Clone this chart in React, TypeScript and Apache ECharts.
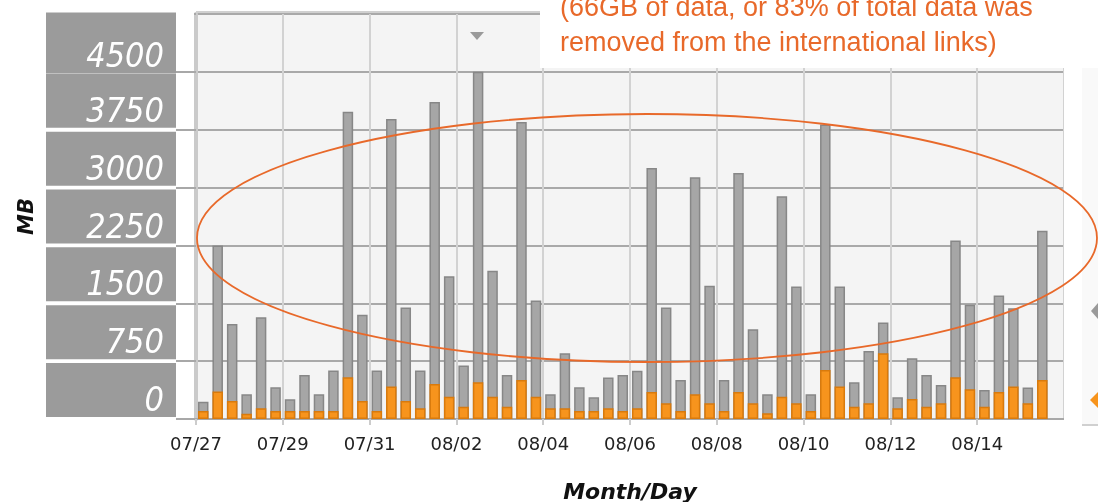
import React, { useEffect, useRef } from "react";
import * as echarts from "echarts";

// 8-hour bins starting 07/27 00:00 (3 bins per day)
const binsPerDay = 3;
const axisBins = 60;
const dayTickLabels = ["07/27", "07/29", "07/31", "08/02", "08/04", "08/06", "08/08", "08/10", "08/12", "08/14"];
const yTickValues = [0, 750, 1500, 2250, 3000, 3750, 4500];

// Total traffic (MB) per bin
const totalMB = [
  225, 2250, 1230, 320, 1320, 411, 255, 571, 320, 628,
  3984, 1351, 628, 3888, 1446, 628, 4109, 1849, 693, 4500,
  1922, 571, 3851, 1536, 320, 852, 411, 281, 537, 571,
  627, 3254, 1445, 506, 3133, 1726, 506, 3189, 1164, 320,
  2886, 1718, 320, 3816, 1718, 476, 883, 1250, 281, 788,
  571, 441, 2315, 1480, 376, 1601, 1437, 407, 2440,
];
// Traffic remaining on international links (MB) per bin
const intlMB = [
  104, 355, 234, 69, 139, 104, 104, 104, 104, 104,
  541, 234, 104, 420, 234, 139, 455, 290, 160, 476,
  290, 160, 506, 290, 138, 138, 104, 104, 138, 104,
  138, 350, 203, 104, 320, 203, 104, 350, 203, 74,
  290, 203, 104, 636, 420, 160, 203, 852, 138, 260,
  160, 203, 541, 385, 160, 350, 420, 203, 506,
];

const noteLine1 = "(66GB of data, or 83% of total data was";
const noteLine2 = "removed from the international links)";

export default function App() {
  const ref = useRef<HTMLDivElement>(null);
  useEffect(() => {
    if (!ref.current) return;
    const chart = echarts.init(ref.current, null, { renderer: "svg" });
    const step = 750;
    const half = step / 2;
    const labelBase = {
      backgroundColor: "#9b9b9b",
      color: "#ffffff",
      fontStyle: "italic",
      fontFamily: "DejaVu Sans Condensed, DejaVu Sans",
      fontSize: 34,
      width: 118,
      height: 36,
      lineHeight: 36,
      align: "right",
    };
    chart.setOption({
      animation: false,
      grid: {
        left: 196,
        right: 34,
        top: 14,
        bottom: 83,
        outerBoundsMode: "none",
        containLabel: false,
        show: true,
        backgroundColor: "#f4f4f4",
        borderWidth: 0,
      },
      xAxis: {
        type: "value",
        min: 0,
        max: axisBins,
        interval: 2 * binsPerDay,
        name: "Month/Day",
        nameLocation: "middle",
        nameGap: 61,
        nameTextStyle: {
          fontFamily: "DejaVu Sans",
          fontWeight: "bold",
          fontStyle: "italic",
          fontSize: 22,
          color: "#111",
        },
        axisLine: { show: true, lineStyle: { color: "#a8a8a8", width: 2 } },
        axisTick: { show: true, length: 6, lineStyle: { color: "#cccccc", width: 2 } },
        axisLabel: {
          showMaxLabel: false,
          margin: 15,
          fontFamily: "DejaVu Sans",
          fontSize: 18,
          color: "#222",
          formatter: (v: number) => dayTickLabels[Math.round(v / (2 * binsPerDay))] ?? "",
        },
        splitLine: { show: true, lineStyle: { color: "#d2d2d2", width: 2 } },
      },
      yAxis: [
        {
          type: "value",
          min: 0,
          max: 5250,
          interval: step,
          name: "MB",
          nameLocation: "middle",
          nameGap: 160,
          nameTextStyle: {
            fontFamily: "DejaVu Sans",
            fontWeight: "bold",
            fontStyle: "italic",
            fontSize: 21,
            color: "#111",
          },
          axisLine: { show: true, lineStyle: { color: "#cacaca", width: 4 } },
          axisTick: { show: true, length: 20, lineStyle: { color: "#a8a8a8", width: 2 } },
          axisLabel: { show: false },
          splitLine: { show: true, lineStyle: { color: "#a9a9a9", width: 2 } },
        },
        {
          type: "value",
          position: "left",
          min: 0,
          max: 5250,
          interval: half,
          axisLine: { show: false },
          axisTick: { show: false },
          splitLine: { show: false },
          axisLabel: {
            margin: 20,
            formatter: (v: number) => {
              const k = Math.round(v / half);
              if (k % 2 === 0) return "";
              const val = v - half;
              if (!yTickValues.includes(val)) return "";
              return val === 4500 ? `{t|${val}}` : `{b|${val}}`;
            },
            rich: {
              b: { ...labelBase, padding: [18, 12, 0, 0] },
              t: { ...labelBase, padding: [25, 12, 0, 0] },
            },
          },
        },
      ],
      series: [
        {
          name: "Total",
          type: "bar",
          barWidth: 10.5,
          barGap: "-100%",
          data: totalMB.map((v, i) => [i + 0.5, v]),
          itemStyle: { color: "#a6a6a6", borderColor: "#878787", borderWidth: 1.5 },
        },
        {
          name: "International",
          type: "bar",
          barWidth: 10.5,
          barGap: "-100%",
          data: intlMB.map((v, i) => [i + 0.5, v]),
          itemStyle: { color: "#f7941d", borderColor: "#d97a0c", borderWidth: 1.5 },
        },
      ],
      graphic: [
        { type: "rect", z: 100, shape: { x: 540, y: 0, width: 558, height: 68 }, style: { fill: "#ffffff" } },
        { type: "rect", z: 100, shape: { x: 1064, y: 12, width: 34, height: 420 }, style: { fill: "#ffffff" } },
        { type: "rect", z: 100, shape: { x: 1082, y: 68, width: 16, height: 357 }, style: { fill: "#f9f9f9" } },
        { type: "rect", z: 100, shape: { x: 176, y: 9, width: 18, height: 8 }, style: { fill: "#ffffff" } },
        { type: "line", z: 100, shape: { x1: 1082, y1: 425, x2: 1098, y2: 425 }, style: { stroke: "#d0d0d0", lineWidth: 2 } },
        { type: "line", z: 100, shape: { x1: 196, y1: 12, x2: 540, y2: 12 }, style: { stroke: "#d0d0d0", lineWidth: 2 } },
        { type: "polygon", z: 101, shape: { points: [[1098, 303], [1091, 311], [1098, 319]] }, style: { fill: "#9a9a9a" } },
        { type: "polygon", z: 101, shape: { points: [[1098, 392], [1090, 400], [1098, 408]] }, style: { fill: "#f7941d" } },
        { type: "polygon", z: 101, shape: { points: [[470, 32], [484, 32], [477, 40]] }, style: { fill: "#9a9a9a" } },
        {
          type: "text", z: 101, x: 560, y: 7,
          style: { text: noteLine1, fill: "#e8692a", font: "27px 'Liberation Sans', Arial, sans-serif", verticalAlign: "middle" },
        },
        {
          type: "text", z: 101, x: 560, y: 42,
          style: { text: noteLine2, fill: "#e8692a", font: "27px 'Liberation Sans', Arial, sans-serif", verticalAlign: "middle" },
        },
        {
          type: "ellipse", z: 102,
          shape: { cx: 647, cy: 238, rx: 450, ry: 124 },
          style: { fill: "none", stroke: "#e8692a", lineWidth: 1.8 },
        },
      ],
    });
    return () => chart.dispose();
  }, []);
  return <div ref={ref} style={{ position: "fixed", left: 0, top: 0, width: 1098, height: 502 }} />;
}
